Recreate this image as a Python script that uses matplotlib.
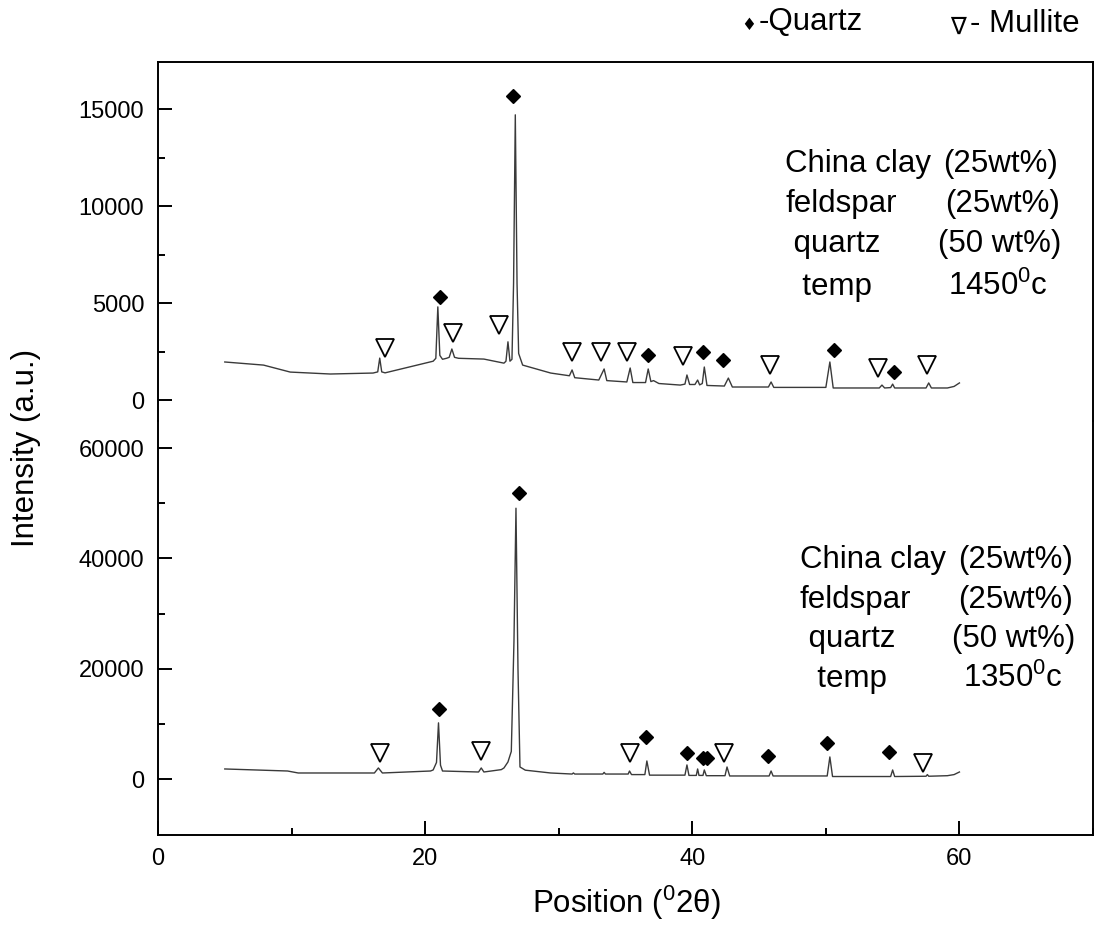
import matplotlib
matplotlib.use('Agg')
import matplotlib.pyplot as plt
from matplotlib.ticker import MultipleLocator, FixedLocator

plt.rcParams['font.family'] = ['Liberation Sans', 'DejaVu Sans']
plt.rcParams['mathtext.fontset'] = 'custom'
plt.rcParams['mathtext.rm'] = 'Liberation Sans'
plt.rcParams['mathtext.it'] = 'Liberation Sans:italic'
plt.rcParams['mathtext.bf'] = 'Liberation Sans:bold'

############################  XRD pattern fired at 1450 C  ############################
pos_1450 = [5.0, 7.9, 9.9, 12.9, 16.1, 16.45, 16.6, 16.75, 17.0, 19.4, 20.6, 20.8,
            20.95, 21.1, 21.3, 21.6, 21.8, 22.0, 22.2, 22.5, 24.4, 25.9, 26.05, 26.2,
            26.35, 26.5, 26.62, 26.75, 26.88, 27.0, 27.3, 29.4, 30.8, 31.0, 31.2, 33.0,
            33.4, 33.6, 35.1, 35.35, 35.55, 36.5, 36.7, 36.9, 37.1, 37.5, 39.1, 39.45,
            39.6, 39.8, 40.2, 40.4, 40.55, 40.75, 40.9, 41.1, 42.4, 42.7, 43.0, 45.7,
            45.9, 46.1, 50.0, 50.3, 50.55, 54.0, 54.2, 54.4, 54.85, 55.0, 55.15, 57.5,
            57.7, 57.9, 59.1, 59.6, 60.0]
int_1450 = [1960, 1800, 1440, 1340, 1390, 1450, 2160, 1450, 1400, 1800, 2000, 2150,
            4800, 2300, 2100, 2150, 2200, 2630, 2200, 2150, 2110, 1900, 2000, 3000,
            2000, 2100, 6000, 14700, 6000, 2400, 1800, 1390, 1250, 1550, 1150, 1030,
            1600, 1000, 930, 1650, 900, 900, 1600, 950, 1000, 850, 770, 820,
            1290, 800, 800, 1030, 780, 850, 1700, 750, 720, 1130, 670, 670,
            930, 650, 650, 1960, 620, 620, 770, 620, 640, 820, 620, 620,
            880, 620, 620, 700, 880]

# phase marks for 1450 C
quartz_1450_x = [21.1, 26.6, 36.7, 40.8, 42.3, 50.6, 55.1]
quartz_1450_y = [5310, 15670, 2320, 2470, 2060, 2580, 1440]
mullite_1450_x = [17.0, 22.1, 25.5, 31.0, 33.2, 35.1, 39.3, 45.8, 53.9, 57.6]
mullite_1450_y = [2680, 3450, 3870, 2470, 2470, 2470, 2270, 1800, 1650, 1800]

############################  XRD pattern fired at 1350 C  ############################
pos_1350 = [5.0, 9.7, 10.5, 16.2, 16.5, 16.8, 20.4, 20.6, 20.85, 21.0, 21.15, 21.3,
            24.0, 24.2, 24.4, 25.7, 25.9, 26.2, 26.45, 26.65, 26.8, 26.95, 27.1, 27.5,
            29.4, 31.0, 31.1, 31.2, 33.3, 33.4, 33.5, 35.2, 35.3, 35.45, 36.45, 36.6,
            36.8, 39.45, 39.6, 39.75, 40.3, 40.4, 40.5, 40.8, 40.9, 41.05, 42.45, 42.6,
            42.8, 45.75, 45.9, 46.05, 50.1, 50.3, 50.5, 54.85, 55.0, 55.15, 57.5, 57.6,
            57.7, 59.1, 59.6, 60.0]
int_1350 = [1820, 1450, 1090, 1090, 2000, 1090, 1450, 1640, 3000, 10180, 2500, 1450,
            1270, 2000, 1270, 1700, 2000, 3090, 5000, 25000, 49100, 20000, 2180, 1600,
            1090, 900, 1100, 900, 900, 1200, 900, 900, 1450, 800, 800, 3270,
            700, 700, 2550, 650, 650, 1820, 650, 650, 1640, 600, 600, 2180,
            550, 550, 1450, 550, 550, 4000, 450, 450, 1640, 450, 500, 800,
            500, 600, 800, 1270]

# phase marks for 1350 C
quartz_1350_x = [21.0, 27.0, 36.5, 39.6, 40.8, 41.1, 45.7, 50.1, 54.7]
quartz_1350_y = [12730, 51800, 7640, 4730, 3820, 3820, 4180, 6550, 4910]
mullite_1350_x = [16.6, 24.2, 35.3, 42.4, 57.3]
mullite_1350_y = [4730, 5090, 4730, 4730, 2910]

# composition text
names = ['China clay', 'feldspar', ' quartz', '  temp']
amounts_1450 = ['(25wt%)', '(25wt%)', '(50 wt%)', '1450$^{0}$c']
amounts_1350 = ['(25wt%)', '(25wt%)', '(50 wt%)', '1350$^{0}$c']

W, H = 1094, 930
fig = plt.figure(figsize=(W / 100, H / 100), dpi=100)

ax_top = fig.add_axes([158 / W, 1 - 421 / H, 935 / W, 359 / H])
ax_bot = fig.add_axes([158 / W, 1 - 835 / H, 935 / W, 414 / H])

line_color = '#3a3a3a'
ax_top.plot(pos_1450, int_1450, color=line_color, lw=1.0)
ax_bot.plot(pos_1350, int_1350, color=line_color, lw=1.0)

# quartz = filled diamonds, mullite = open down triangles
for ax, qx, qy, mx, my in [(ax_top, quartz_1450_x, quartz_1450_y, mullite_1450_x, mullite_1450_y),
                           (ax_bot, quartz_1350_x, quartz_1350_y, mullite_1350_x, mullite_1350_y)]:
    ax.plot(qx, qy, linestyle='none', marker=(4, 0, 0), ms=10, color='black', zorder=3)
    ax.plot(mx, my, linestyle='none', marker='v', ms=12.5, mfc='white', mec='black',
            mew=1.3, zorder=3)

for ax in (ax_top, ax_bot):
    ax.set_xlim(0, 70)
    ax.xaxis.set_major_locator(MultipleLocator(20))
    ax.xaxis.set_minor_locator(MultipleLocator(10))
    ax.tick_params(which='both', direction='in', width=1.4, labelsize=17, top=False, right=False)
    ax.tick_params(which='major', length=10)
    ax.tick_params(which='minor', length=5)
    ax.tick_params(axis='y', pad=10)
    ax.tick_params(axis='x', pad=9)
    for s in ax.spines.values():
        s.set_linewidth(1.4)

ax_top.set_ylim(-1082, 17423)
ax_top.yaxis.set_major_locator(MultipleLocator(5000))
ax_top.yaxis.set_minor_locator(FixedLocator([2500, 7500, 12500]))
ax_top.spines['bottom'].set_visible(False)
ax_top.tick_params(axis='x', which='both', bottom=False, labelbottom=False)
ax_top.patch.set_alpha(0)

ax_bot.set_ylim(-10154, 64914)
ax_bot.yaxis.set_major_locator(MultipleLocator(20000))
ax_bot.yaxis.set_minor_locator(FixedLocator([10000, 30000, 50000]))
ax_bot.spines['top'].set_visible(False)
ax_bot.patch.set_alpha(0)

def fx(x):
    return x / W

def fy(y):
    return 1 - y / H

# composition blocks
txt = 22.5
name_x_top = [785, 785, 785, 785]
amt_x_top = [943, 945, 938, 948]
rows_top = [172, 212, 252, 295]
name_x_bot = [800, 800, 800, 800]
amt_x_bot = [958, 958, 952, 963]
rows_bot = [568, 608, 647, 687]
for i in range(4):
    fig.text(fx(name_x_top[i]), fy(rows_top[i]), names[i], fontsize=txt, va='baseline')
    fig.text(fx(amt_x_top[i]), fy(rows_top[i]), amounts_1450[i], fontsize=txt, va='baseline')
    fig.text(fx(name_x_bot[i]), fy(rows_bot[i]), names[i], fontsize=txt, va='baseline')
    fig.text(fx(amt_x_bot[i]), fy(rows_bot[i]), amounts_1350[i], fontsize=txt, va='baseline')

# key at top
fig.text(fx(749), fy(25), '\u2666', fontsize=12, ha='center', va='center', family=['DejaVu Sans'])
fig.text(fx(759), fy(22), '-Quartz', fontsize=txt, ha='left', va='center')
fig.text(fx(958), fy(27), '\u2207', fontsize=17, ha='center', va='center', family=['DejaVu Sans'])
fig.text(fx(970), fy(24), '- Mullite', fontsize=txt, ha='left', va='center')

# axis titles
fig.text(fx(26), fy(448), 'Intensity (a.u.)', fontsize=txt, rotation=90, ha='center', va='center')
fig.text(fx(626), fy(903), 'Position ($^{0}$2\u03b8)', fontsize=txt, ha='center', va='center')

fig.savefig('out.png', dpi=100)
